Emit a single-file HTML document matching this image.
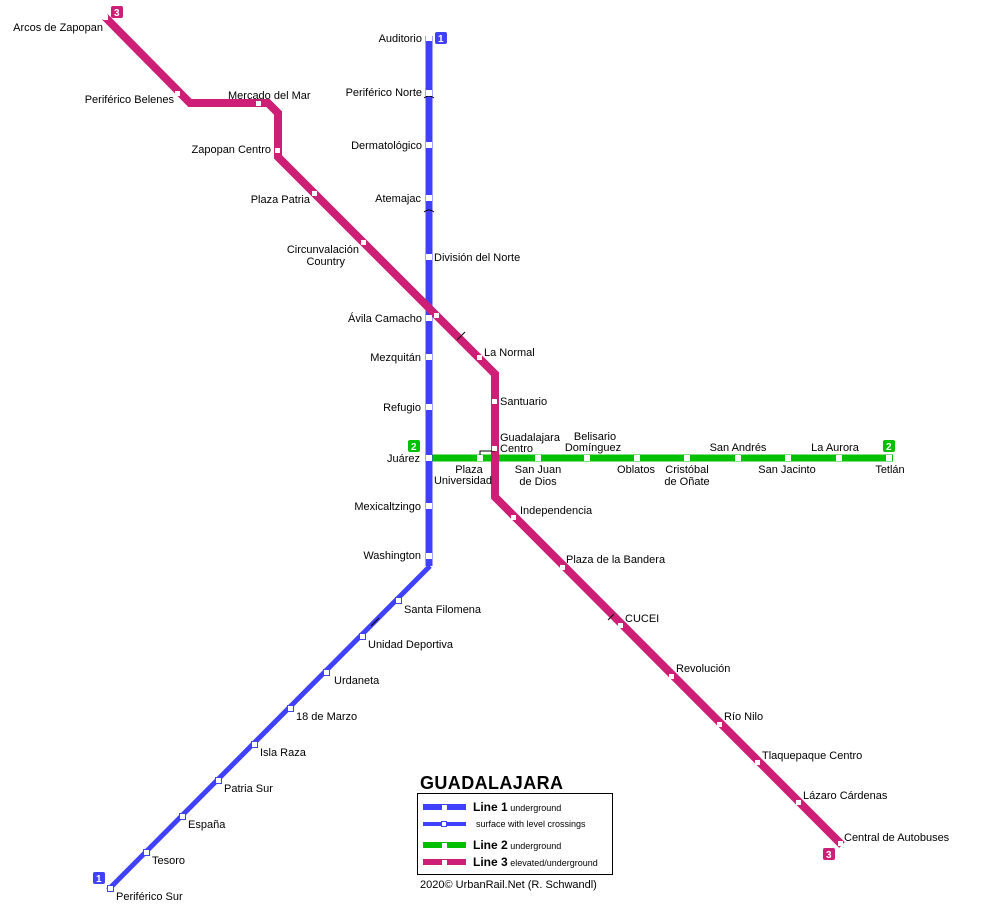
<!DOCTYPE html>
<html><head><meta charset="utf-8"><style>
body{margin:0;background:#fff}
svg{display:block}
text{font-family:"Liberation Sans",sans-serif;font-size:11px;fill:#000}
.b{font-weight:bold;fill:#fff;font-size:10px}
</style></head><body>
<svg width="1000" height="922" viewBox="0 0 1000 922" xmlns="http://www.w3.org/2000/svg">
<line x1="429" y1="458" x2="893" y2="458" stroke="#00C000" stroke-width="7"/>
<line x1="429" y1="36" x2="429" y2="566" stroke="#4040FF" stroke-width="7"/>
<line x1="430" y1="566" x2="108" y2="890" stroke="#4040FF" stroke-width="5"/>
<polyline points="105,17 190,103 268,103 278,113 278,157 495,374 495,497 842,845" fill="none" stroke="#CC1F75" stroke-width="8"/>
<path d="M424,98 q5,-4 10,0 M424,212 q5,-4 10,0 M457,340 l8,-8 M371,626 l8,-8 M608,620 l6,-6" stroke="#000" stroke-width="1" fill="none"/>
<polyline points="480,458 480,451 495,451" fill="none" stroke="#000" stroke-width="1"/>
<g fill="#fff">
<rect x="426" y="35" width="6" height="6"/><rect x="426" y="90" width="6" height="6"/>
<rect x="426" y="142" width="6" height="6"/><rect x="426" y="195" width="6" height="6"/>
<rect x="426" y="254" width="6" height="6"/><rect x="426" y="315" width="6" height="6"/>
<rect x="426" y="354" width="6" height="6"/><rect x="426" y="404" width="6" height="6"/>
<rect x="426" y="455" width="6" height="6"/><rect x="426" y="503" width="6" height="6"/>
<rect x="426" y="553" width="6" height="6"/>
<rect x="103" y="15" width="5" height="5"/><rect x="175" y="91" width="5" height="5"/>
<rect x="256" y="101" width="5" height="5"/><rect x="275" y="148" width="5" height="5"/>
<rect x="312" y="191" width="5" height="5"/><rect x="361" y="240" width="5" height="5"/>
<rect x="434" y="313" width="5" height="5"/><rect x="477" y="355" width="5" height="5"/>
<rect x="492" y="399" width="5" height="5"/><rect x="492" y="446" width="5" height="5"/>
<rect x="511" y="515" width="5" height="5"/><rect x="560" y="565" width="5" height="5"/>
<rect x="618" y="623" width="5" height="5"/><rect x="669" y="674" width="5" height="5"/>
<rect x="717" y="722" width="5" height="5"/><rect x="755" y="760" width="5" height="5"/>
<rect x="796" y="800" width="5" height="5"/><rect x="838" y="841" width="5" height="5"/>
<rect x="477" y="455" width="6" height="6"/><rect x="535" y="455" width="6" height="6"/>
<rect x="584" y="455" width="6" height="6"/><rect x="634" y="455" width="6" height="6"/>
<rect x="684" y="455" width="6" height="6"/><rect x="735" y="455" width="6" height="6"/>
<rect x="785" y="455" width="6" height="6"/><rect x="836" y="455" width="6" height="6"/>
<rect x="886" y="455" width="6" height="6"/>
</g>
<g fill="#fff" stroke="#4040FF" stroke-width="1">
<rect x="395.5" y="597.5" width="6" height="6"/><rect x="359.5" y="633.5" width="6" height="6"/>
<rect x="323.5" y="669.5" width="6" height="6"/><rect x="287.5" y="705.5" width="6" height="6"/>
<rect x="251.5" y="741.5" width="6" height="6"/><rect x="215.5" y="777.5" width="6" height="6"/>
<rect x="179.5" y="813.5" width="6" height="6"/><rect x="143.5" y="849.5" width="6" height="6"/>
<rect x="107.5" y="885.5" width="6" height="6"/>
</g>
<rect x="111" y="6" width="12" height="12" rx="2" fill="#CC1F75"/><text class="b" x="114" y="16">3</text>
<rect x="435" y="32" width="12" height="12" rx="2" fill="#4040FF"/><text class="b" x="438" y="42">1</text>
<rect x="408" y="440" width="12" height="12" rx="2" fill="#00C000"/><text class="b" x="411" y="450">2</text>
<rect x="883" y="440" width="12" height="12" rx="2" fill="#00C000"/><text class="b" x="886" y="450">2</text>
<rect x="93" y="872" width="12" height="12" rx="2" fill="#4040FF"/><text class="b" x="96" y="882">1</text>
<rect x="823" y="848" width="12" height="12" rx="2" fill="#CC1F75"/><text class="b" x="826" y="858">3</text>
<g text-anchor="end">
<text x="422" y="42">Auditorio</text><text x="422" y="96">Periférico Norte</text>
<text x="422" y="149">Dermatológico</text><text x="421" y="202">Atemajac</text>
<text x="422" y="322">Ávila Camacho</text><text x="421" y="361">Mezquitán</text>
<text x="421" y="411">Refugio</text><text x="420" y="462">Juárez</text>
<text x="421" y="510">Mexicaltzingo</text><text x="421" y="559">Washington</text>
<text x="103" y="31">Arcos de Zapopan</text><text x="174" y="103">Periférico Belenes</text>
<text x="271" y="153">Zapopan Centro</text><text x="310" y="203">Plaza Patria</text>
<text x="359" y="253">Circunvalación</text><text x="345" y="265">Country</text>
</g>
<text x="434" y="261">División del Norte</text>
<text x="404" y="613">Santa Filomena</text><text x="368" y="648">Unidad Deportiva</text>
<text x="334" y="684">Urdaneta</text><text x="296" y="720">18 de Marzo</text>
<text x="260" y="756">Isla Raza</text><text x="224" y="792">Patria Sur</text>
<text x="188" y="828">España</text><text x="152" y="864">Tesoro</text>
<text x="116" y="900">Periférico Sur</text>
<text x="228" y="99">Mercado del Mar</text>
<text x="484" y="356">La Normal</text><text x="500" y="405">Santuario</text>
<text x="500" y="441">Guadalajara</text><text x="500" y="452">Centro</text>
<text x="520" y="514">Independencia</text><text x="566" y="563">Plaza de la Bandera</text>
<text x="625" y="622">CUCEI</text><text x="676" y="672">Revolución</text>
<text x="724" y="720">Río Nilo</text><text x="762" y="759">Tlaquepaque Centro</text>
<text x="803" y="799">Lázaro Cárdenas</text><text x="844" y="841">Central de Autobuses</text>
<g text-anchor="middle">
<text x="469" y="473">Plaza</text><text x="463" y="484">Universidad</text>
<text x="538" y="473">San Juan</text><text x="538" y="485">de Dios</text>
<text x="595" y="440">Belisario</text><text x="593" y="451">Domínguez</text>
<text x="636" y="473">Oblatos</text>
<text x="687" y="473">Cristóbal</text><text x="687" y="485">de Oñate</text>
<text x="738" y="451">San Andrés</text><text x="787" y="473">San Jacinto</text>
<text x="835" y="451">La Aurora</text><text x="890" y="473">Tetlán</text>
</g>
<text x="420" y="789" style="font-size:18px;font-weight:bold;letter-spacing:0.4px">GUADALAJARA</text>
<rect x="417.5" y="793.5" width="195" height="81" fill="none" stroke="#000"/>
<line x1="423" y1="807" x2="466" y2="807" stroke="#4040FF" stroke-width="6"/><rect x="442" y="805" width="5" height="5" fill="#fff"/>
<line x1="423" y1="824" x2="466" y2="824" stroke="#4040FF" stroke-width="4"/><rect x="441.5" y="821.5" width="5" height="5" fill="#fff" stroke="#4040FF"/>
<line x1="423" y1="845" x2="466" y2="845" stroke="#00C000" stroke-width="6"/><rect x="442" y="843" width="5" height="5" fill="#fff"/>
<line x1="423" y1="862" x2="466" y2="862" stroke="#CC1F75" stroke-width="6"/><rect x="442" y="860" width="5" height="5" fill="#fff"/>
<text x="473" y="811"><tspan style="font-weight:bold;font-size:12px">Line 1</tspan><tspan style="font-size:9px"> underground</tspan></text>
<text x="476" y="827" style="font-size:9px">surface with level crossings</text>
<text x="473" y="849"><tspan style="font-weight:bold;font-size:12px">Line 2</tspan><tspan style="font-size:9px"> underground</tspan></text>
<text x="473" y="866"><tspan style="font-weight:bold;font-size:12px">Line 3</tspan><tspan style="font-size:9px"> elevated/underground</tspan></text>
<text x="420" y="888" style="font-size:11px">2020© UrbanRail.Net (R. Schwandl)</text>
</svg>
</body></html>
